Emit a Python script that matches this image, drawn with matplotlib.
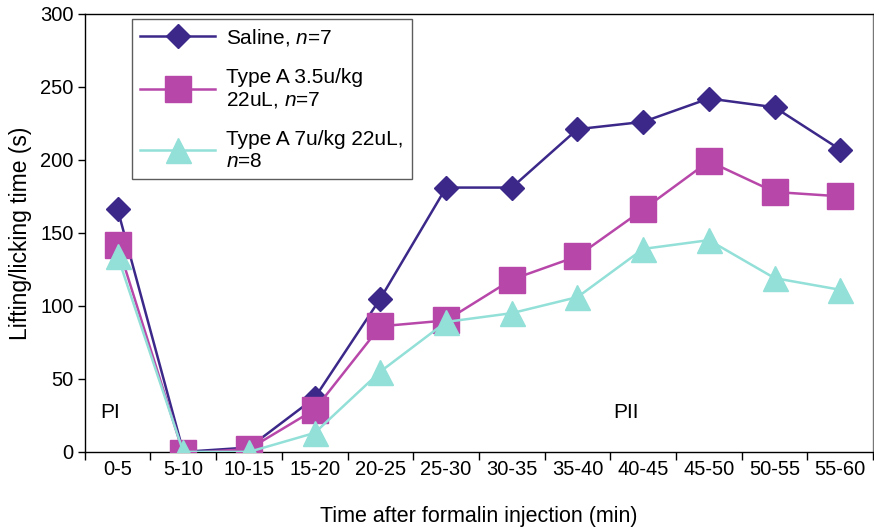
import matplotlib.pyplot as plt
import numpy as np

plt.rcParams['font.family'] = ['Liberation Sans', 'DejaVu Sans']
plt.rcParams['mathtext.fontset'] = 'custom'
plt.rcParams['mathtext.it'] = 'Liberation Sans:italic'
plt.rcParams['mathtext.rm'] = 'Liberation Sans'

# --- Data ---
CATEGORIES = ['0-5', '5-10', '10-15', '15-20', '20-25', '25-30',
              '30-35', '35-40', '40-45', '45-50', '50-55', '55-60']
SALINE = [166, 0, 3, 37, 105, 181, 181, 221, 226, 242, 236, 207]
TYPE_A_35 = [142, -1, 2, 29, 86, 90, 118, 134, 166, 199, 178, 175]
TYPE_A_7 = [134, 0, 0, 13, 55, 89, 95, 106, 139, 145, 119, 111]

SALINE_COLOR = '#3b2889'
TYPE_A_35_COLOR = '#b847aa'
TYPE_A_7_COLOR = '#92e0d8'


def main():
    fig = plt.figure(figsize=(8.74, 5.31), dpi=100)
    ax = fig.add_axes([0.097, 0.149, 0.902, 0.825])

    x = np.arange(len(CATEGORIES))
    ax.plot(x, SALINE, color=SALINE_COLOR, lw=1.8, marker='D', ms=12.5,
            label='Saline, $n$=7', zorder=3)
    ax.plot(x, TYPE_A_35, color=TYPE_A_35_COLOR, lw=1.8, marker='s', ms=18.5,
            label='Type A 3.5u/kg\n22uL, $n$=7', zorder=4)
    ax.plot(x, TYPE_A_7, color=TYPE_A_7_COLOR, lw=1.8, marker='^', ms=18,
            label='Type A 7u/kg 22uL,\n$n$=8', zorder=5)

    ax.set_xlim(-0.5, len(CATEGORIES) - 0.5)
    ax.set_ylim(0, 300)
    ax.set_yticks(range(0, 301, 50))
    ax.set_xticks(x)
    ax.set_xticklabels(CATEGORIES)
    ax.set_xticks(np.arange(-0.5, len(CATEGORIES)), minor=True)
    ax.tick_params(axis='x', which='major', length=0, labelsize=14.5, pad=6)
    ax.tick_params(axis='x', which='minor', length=6, width=1)
    ax.tick_params(axis='y', length=5, width=1, labelsize=14.5, pad=3)

    for side in ax.spines.values():
        side.set_linewidth(1.0)
    ax.spines['right'].set_color('#777777')

    ax.set_xlabel('Time after formalin injection (min)', fontsize=15.5, labelpad=19)
    ax.set_ylabel('Lifting/licking time (s)', fontsize=16.5, labelpad=6)

    ax.text(-0.26, 27, 'PI', fontsize=15, ha='left', va='center')
    ax.text(7.55, 27, 'PII', fontsize=15, ha='left', va='center')

    leg = ax.legend(loc='upper left', bbox_to_anchor=(0.06, 0.989),
                    borderaxespad=0, fontsize=15, frameon=True, fancybox=False,
                    handlelength=3.6, handletextpad=0.5, labelspacing=0.95,
                    borderpad=0.4, edgecolor='#333333')
    leg.get_frame().set_linewidth(1.0)

    fig.savefig('out.png', dpi=100)


if __name__ == '__main__':
    main()
